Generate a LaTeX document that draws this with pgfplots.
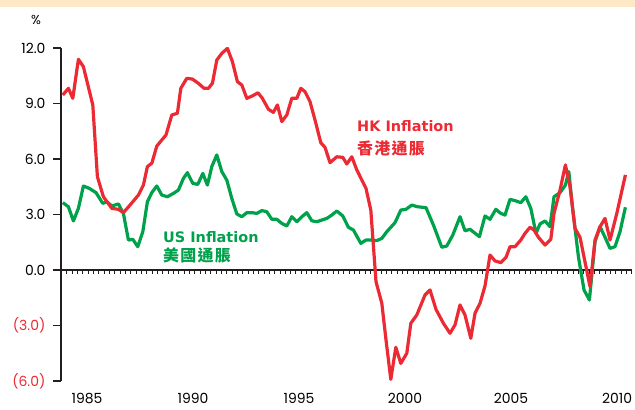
\documentclass[border=0pt]{standalone}
\usepackage{pgfplots}
\pgfplotsset{compat=1.18}
\usepackage{fontspec}
\setmainfont{Poppins}
\newfontfamily\labelfont{DejaVu Sans}
\newfontfamily\cjk{Noto Sans CJK TC}[LetterSpace=8]
\definecolor{hkred}{HTML}{EC2A33}
\definecolor{usgreen}{HTML}{00A14B}
\definecolor{band}{HTML}{FFE8C6}
\definecolor{axisblack}{HTML}{231F20}

\begin{document}
\begin{tikzpicture}[x=1bp,y=1bp]
\useasboundingbox (0,0) rectangle (635,409);
\fill[band] (0,402) rectangle (635,409);
% zero line with quarterly ticks
\draw[axisblack, line width=1.3bp] (61,139) -- (632,139);
\foreach \i in {0,...,106} \draw[axisblack, line width=0.8bp] ({66.7+\i*5.33},139) -- ++(0,-3.5);
\node[font=\fontsize{13}{14}\selectfont] at (36,389) {\%};

\begin{axis}[
    at={(61bp,28bp)}, anchor=south west,
    scale only axis, width=571bp, height=333bp,
    xmin=1983.12, xmax=2011.67,
    ymin=-6, ymax=12,
    axis y line*=left,
    axis x line*=bottom,
    x axis line style={draw=none},
    y axis line style={axisblack, line width=1.3bp},
    tick align=outside,
    major tick length=8bp,
    ytick={-6,-3,0,3,6,9,12},
    yticklabels={\textcolor{hkred}{(6.0)}, \textcolor{hkred}{(3.0)}, 0.0, 3.0, 6.0, 9.0, 12.0},
    ytick style={axisblack, line width=1.3bp},
    xtick={1984.42,1989.72,1995.02,2000.32,2005.62,2010.92},
    xticklabels={1985,1990,1995,2000,2005,2010},
    xtick style={draw=none},
    tick label style={font=\fontsize{14}{16}\selectfont},
    xticklabel style={yshift=-1bp},
    yticklabel style={xshift=-4bp},
]
% US inflation
\addplot[usgreen, line width=3.2bp, line join=round] table {
x y
1983.21 3.64
1983.49 3.42
1983.74 2.65
1983.99 3.33
1984.24 4.54
1984.54 4.41
1984.87 4.18
1985.21 3.60
1985.41 3.69
1985.66 3.46
1985.99 3.57
1986.24 3.06
1986.49 1.62
1986.71 1.66
1986.96 1.26
1987.21 2.07
1987.44 3.69
1987.66 4.18
1987.91 4.54
1988.16 4.05
1988.44 3.96
1988.74 4.14
1988.99 4.32
1989.24 4.95
1989.44 5.26
1989.71 4.68
1989.96 4.63
1990.21 5.22
1990.44 4.59
1990.66 5.59
1990.91 6.22
1991.16 5.32
1991.41 4.86
1991.66 3.87
1991.91 3.03
1992.16 2.88
1992.41 3.10
1992.66 3.10
1992.91 3.06
1993.16 3.21
1993.41 3.15
1993.66 2.74
1993.91 2.74
1994.16 2.52
1994.41 2.38
1994.66 2.88
1994.91 2.61
1995.16 2.88
1995.41 3.10
1995.66 2.66
1995.91 2.61
1996.16 2.70
1996.41 2.79
1996.66 2.97
1996.91 3.19
1997.21 2.92
1997.49 2.31
1997.74 2.16
1998.11 1.44
1998.37 1.62
1998.66 1.62
1998.91 1.59
1999.16 1.71
1999.41 2.07
1999.82 2.56
2000.11 3.24
2000.37 3.28
2000.66 3.51
2000.94 3.42
2001.37 3.37
2001.74 2.43
2002.16 1.23
2002.41 1.30
2002.71 1.89
2003.07 2.88
2003.32 2.12
2003.57 2.20
2004.04 1.80
2004.32 2.92
2004.57 2.74
2004.86 3.28
2005.11 3.06
2005.32 2.97
2005.57 3.82
2005.82 3.75
2006.11 3.64
2006.36 3.96
2006.61 3.33
2006.87 1.98
2007.07 2.49
2007.32 2.65
2007.57 2.34
2007.77 3.96
2008.07 4.18
2008.34 4.59
2008.51 5.32
2008.71 3.24
2008.99 0.72
2009.27 -1.08
2009.54 -1.62
2009.82 1.53
2010.07 2.34
2010.32 1.77
2010.57 1.17
2010.82 1.26
2011.07 2.07
2011.34 3.39
};
% HK inflation
\addplot[hkred, line width=3.2bp, line join=round] table {
x y
1983.21 9.46
1983.49 9.82
1983.71 9.28
1983.99 11.39
1984.24 10.99
1984.71 8.92
1984.94 5.04
1985.24 3.96
1985.66 3.33
1985.99 3.28
1986.24 3.10
1986.57 3.51
1986.99 4.05
1987.24 4.59
1987.44 5.59
1987.66 5.77
1987.91 6.70
1988.37 7.30
1988.66 8.38
1988.94 8.47
1989.11 9.82
1989.41 10.36
1989.69 10.32
1989.99 10.09
1990.27 9.82
1990.49 9.82
1990.69 10.09
1990.91 11.35
1991.16 11.71
1991.44 11.98
1991.69 11.26
1991.94 10.18
1992.16 10.00
1992.41 9.28
1992.69 9.41
1992.97 9.58
1993.19 9.28
1993.49 8.69
1993.74 8.52
1993.94 8.92
1994.16 8.02
1994.41 8.38
1994.66 9.28
1994.91 9.28
1995.11 9.82
1995.32 9.64
1995.57 9.10
1995.82 8.11
1996.11 6.88
1996.32 6.63
1996.57 5.80
1996.91 6.12
1997.21 6.09
1997.41 5.73
1997.66 6.12
1997.91 5.41
1998.37 4.41
1998.61 3.24
1998.87 -0.63
1999.16 -1.80
1999.37 -3.78
1999.61 -5.91
1999.86 -4.18
2000.11 -5.05
2000.41 -4.50
2000.61 -2.88
2000.91 -2.43
2001.32 -1.35
2001.57 -1.08
2001.87 -2.13
2002.24 -2.88
2002.57 -3.42
2002.82 -2.97
2003.07 -1.89
2003.32 -2.43
2003.61 -3.69
2003.82 -2.34
2004.07 -1.80
2004.32 -0.86
2004.57 0.81
2004.82 0.49
2005.11 0.40
2005.37 0.68
2005.57 1.26
2005.82 1.26
2006.11 1.62
2006.32 1.98
2006.57 2.31
2006.77 2.16
2006.99 1.77
2007.32 1.35
2007.61 1.66
2007.77 3.06
2008.07 4.32
2008.34 5.68
2008.57 4.50
2008.82 2.25
2009.07 1.77
2009.57 -0.90
2009.82 1.62
2010.07 2.34
2010.32 2.79
2010.57 1.62
2010.91 3.06
2011.34 5.14
};
\end{axis}

\node[anchor=west, inner sep=0, text=hkred, font=\labelfont\bfseries\fontsize{14.5}{16}\selectfont] at (357,283) {HK Inflation};
\node[anchor=west, inner sep=0, text=hkred, font=\cjk\bfseries\fontsize{16}{18}\selectfont] at (357,260.5) {香港通脹};
\node[anchor=west, inner sep=0, text=usgreen, font=\labelfont\bfseries\fontsize{14.5}{16}\selectfont] at (163,172.3) {US Inflation};
\node[anchor=west, inner sep=0, text=usgreen, font=\cjk\bfseries\fontsize{16}{18}\selectfont] at (163,154) {美國通脹};
\end{tikzpicture}
\end{document}
